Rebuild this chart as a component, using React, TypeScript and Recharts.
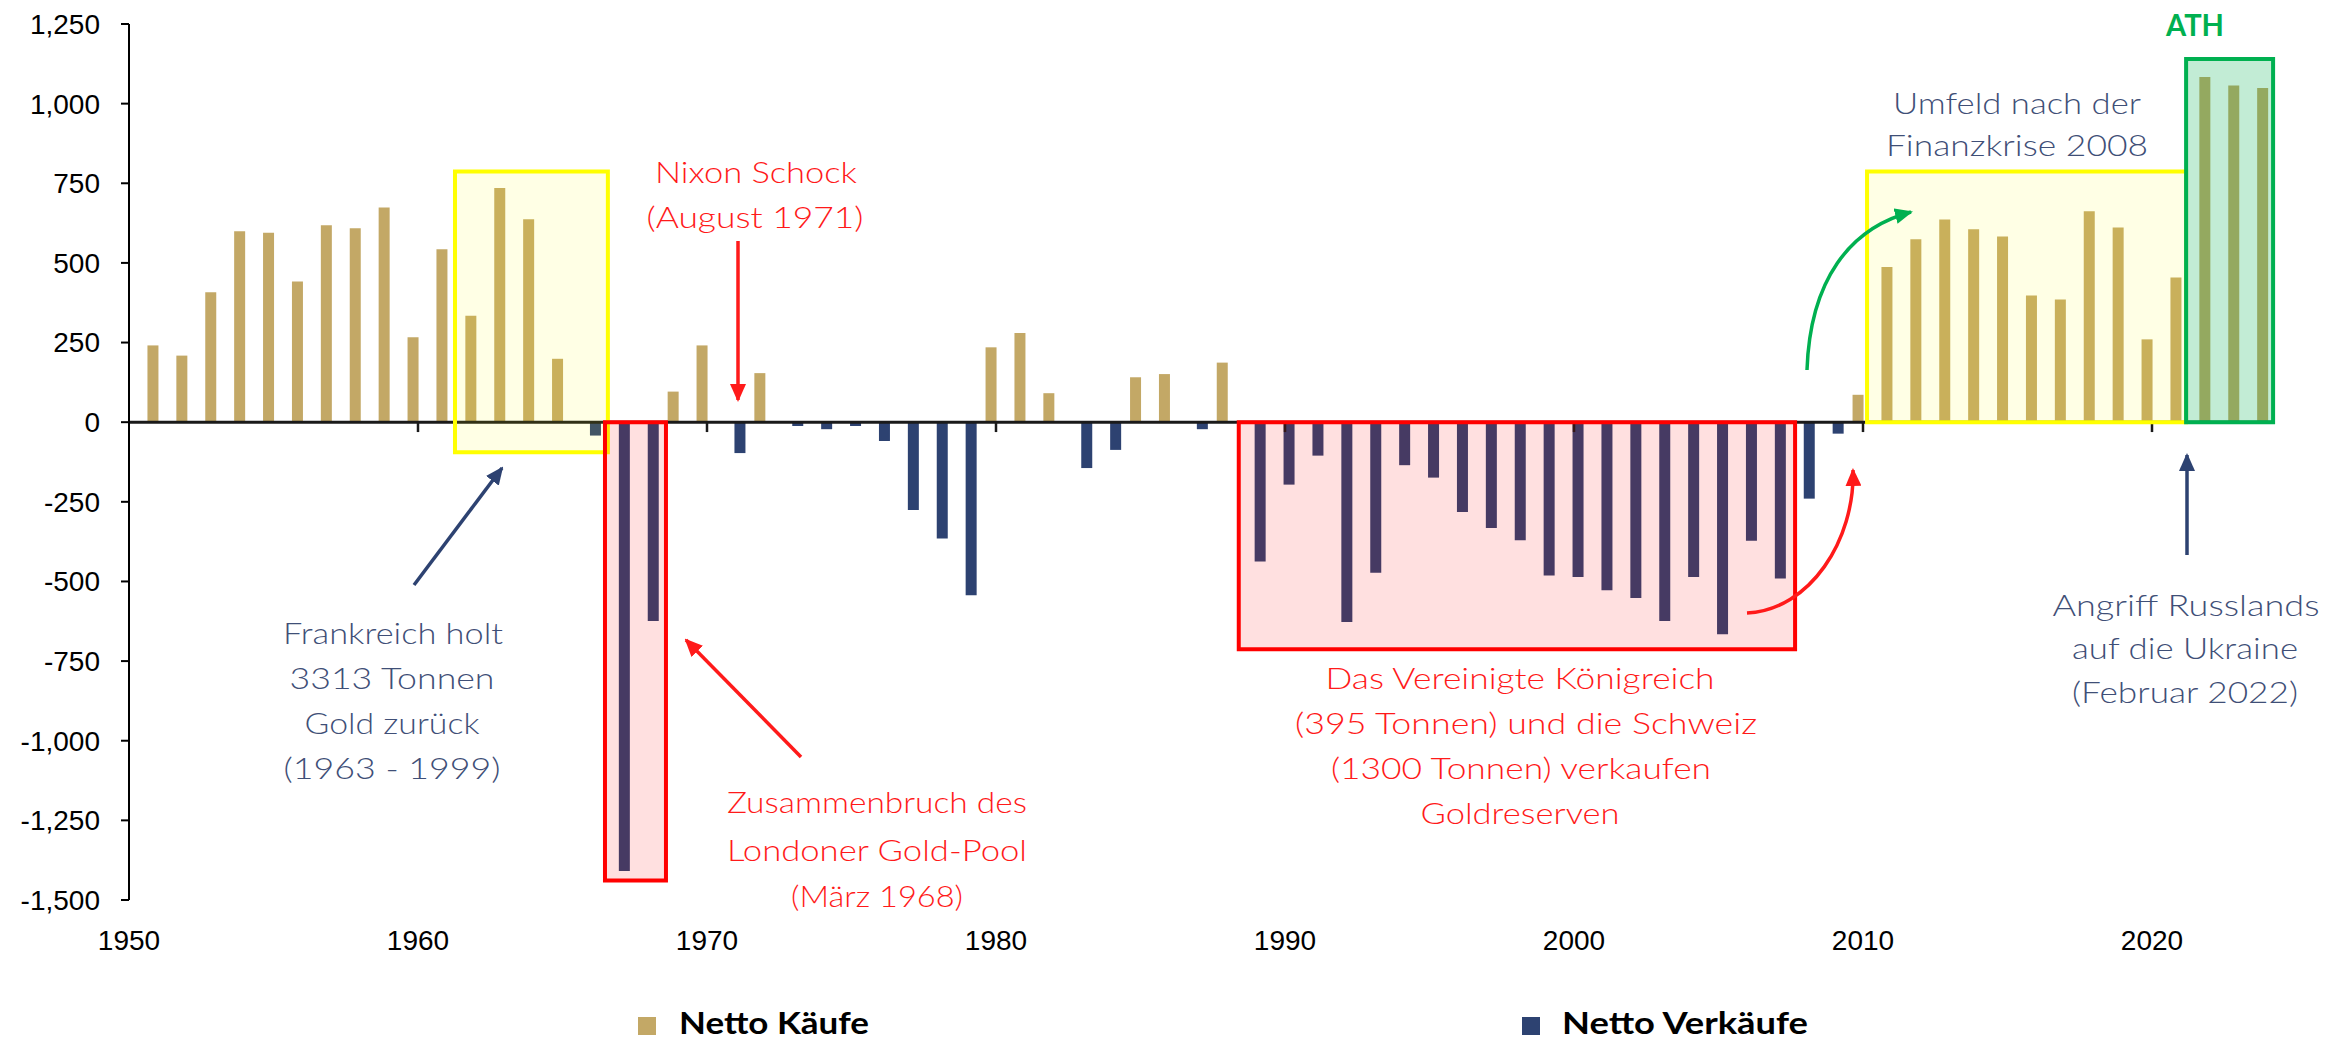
import { Bar, BarChart, Legend, ReferenceArea, ReferenceLine, XAxis, YAxis } from 'recharts'

// Netto-Käufe / -Verkäufe der Zentralbanken in Tonnen, 1951 - 2024
const years = [
  1951, 1952, 1953, 1954, 1955, 1956, 1957, 1958, 1959, 1960,
  1961, 1962, 1963, 1964, 1965, 1966, 1967, 1968, 1969, 1970,
  1971, 1972, 1973, 1974, 1975, 1976, 1977, 1978, 1979, 1980,
  1981, 1982, 1983, 1984, 1985, 1986, 1987, 1988, 1989, 1990,
  1991, 1992, 1993, 1994, 1995, 1996, 1997, 1998, 1999, 2000,
  2001, 2002, 2003, 2004, 2005, 2006, 2007, 2008, 2009, 2010,
  2011, 2012, 2013, 2014, 2015, 2016, 2017, 2018, 2019, 2020,
  2021, 2022, 2023, 2024,
]
const netFlow = [
  241, 209, 408, 599, 595, 442, 618, 609, 674, 267,
  543, 334, 735, 637, 199, -42, -1409, -624, 96, 241,
  -97, 154, -12, -22, -12, -59, -276, -365, -543, 235,
  280, 91, -144, -87, 141, 151, -22, 187, -437, -196,
  -105, -627, -473, -135, -174, -282, -332, -371, -481, -486,
  -528, -552, -624, -486, -666, -372, -491, -240, -36, 86,
  487, 574, 636, 606, 583, 398, 385, 662, 611, 260,
  454, 1084, 1057, 1049,
]
const xTicks = [1950, 1960, 1970, 1980, 1990, 2000, 2010, 2020]
const yTicks = [-1500, -1250, -1000, -750, -500, -250, 0, 250, 500, 750, 1000, 1250]

const data = years.map((year, i) => ({
  year,
  kaeufe: netFlow[i] > 0 ? netFlow[i] : null,
  verkaeufe: netFlow[i] < 0 ? netFlow[i] : null,
}))

const GOLD = '#C3A866'
const NAVY = '#2D4271'
const RED = '#FF1A1A'
const SLATE = '#3F4F77'
const GREEN = '#00B050'

// hervorgehobene Bereiche (Datenkoordinaten)
const boxes = [
  { x1: 1961.28, x2: 1966.57, y1: -94, y2: 787, color: '#FFFF00', opacity: 0.1 },
  { x1: 1966.47, x2: 1968.58, y1: -1439, y2: 0, color: '#FF0000', opacity: 0.12 },
  { x1: 1988.4, x2: 2007.65, y1: -713, y2: 0, color: '#FF0000', opacity: 0.12 },
  { x1: 2010.14, x2: 2021.18, y1: 0, y2: 787, color: '#FFFF00', opacity: 0.1 },
  { x1: 2021.18, x2: 2024.19, y1: 0, y2: 1140, color: GREEN, opacity: 0.24 },
]

// Beschriftungen: [text, mitte x, mitte y, breite]
const notes: { color: string; lines: [string, number, number, number][] }[] = [
  { color: RED, lines: [['Nixon Schock', 756, 172, 202], ['(August 1971)', 755, 217, 217]] },
  {
    color: SLATE,
    lines: [
      ['Frankreich holt', 393, 633, 220],
      ['3313 Tonnen', 392, 678, 205],
      ['Gold zurück', 392, 723, 175],
      ['(1963 - 1999)', 392, 768, 217],
    ],
  },
  {
    color: RED,
    lines: [
      ['Zusammenbruch des', 877, 802, 300],
      ['Londoner Gold-Pool', 877, 850, 300],
      ['(März 1968)', 877, 896, 172],
    ],
  },
  {
    color: RED,
    lines: [
      ['Das Vereinigte Königreich', 1520, 678, 389],
      ['(395 Tonnen) und die Schweiz', 1526, 723, 462],
      ['(1300 Tonnen) verkaufen', 1521, 768, 380],
      ['Goldreserven', 1520, 813, 199],
    ],
  },
  { color: SLATE, lines: [['Umfeld nach der', 2017, 103, 248], ['Finanzkrise 2008', 2017, 145, 262]] },
  {
    color: SLATE,
    lines: [
      ['Angriff Russlands', 2186, 605, 267],
      ['auf die Ukraine', 2185, 648, 226],
      ['(Februar 2022)', 2185, 692, 226],
    ],
  },
]

const arrows = [
  { d: 'M738,241 L738,400', color: RED, id: 'r' },
  { d: 'M414,585 L502,468', color: NAVY, id: 'n' },
  { d: 'M801,757 L686,640', color: RED, id: 'r' },
  { d: 'M1747,613 C1810,610 1855,540 1853,470', color: RED, id: 'r' },
  { d: 'M1807,370 C1810,280 1850,228 1911,212', color: GREEN, id: 'g' },
  { d: 'M2187,555 L2187,455', color: NAVY, id: 'n' },
]

const legendPos = [
  { sq: 638, tx: 679, w: 190 },
  { sq: 1522, tx: 1562, w: 246 },
]

function renderLegend(props: any) {
  const payload = props.payload || []
  return (
    <svg width={2338} height={45} style={{ display: 'block' }}>
      {payload.map((p: any, i: number) => (
        <g key={p.value}>
          <rect x={legendPos[i].sq} y={21} width={18} height={18} fill={p.color} />
          <text
            x={legendPos[i].tx}
            y={38}
            fontFamily='Lato, sans-serif'
            fontWeight={700}
            fontSize={30}
            fill='#000'
            textLength={legendPos[i].w}
            lengthAdjust='spacingAndGlyphs'
          >
            {p.value}
          </text>
        </g>
      ))}
    </svg>
  )
}

const tickFont = { fontFamily: '"Liberation Sans", Arial, sans-serif', fontSize: 28, fill: '#000' }

export default function App() {
  return (
    <div style={{ position: 'absolute', left: 0, top: 0, width: 2338, height: 1041, background: '#fff' }}>
      <BarChart
        width={2338}
        height={1041}
        data={data}
        margin={{ top: 24, right: 41.5, left: 0, bottom: 81 }}
        barGap={-2}
      >
        <XAxis
          dataKey='year'
          type='number'
          domain={[1950, 2025]}
          ticks={xTicks}
          axisLine={false}
          tickLine={false}
          tickSize={8}
          tickMargin={22}
          height={60}
          tick={tickFont}
        />
        <YAxis
          domain={[-1500, 1250]}
          ticks={yTicks}
          width={129}
          tickSize={8}
          tickMargin={21}
          axisLine={{ stroke: '#000', strokeWidth: 2 }}
          tickLine={{ stroke: '#000', strokeWidth: 2 }}
          tick={tickFont}
          tickFormatter={(v: number) => v.toLocaleString('en-US')}
        />
        <Bar dataKey='kaeufe' name='Netto Käufe' fill={GOLD} barSize={11} legendType='square' isAnimationActive={false} />
        <Bar dataKey='verkaeufe' name='Netto Verkäufe' fill={NAVY} barSize={11} legendType='square' isAnimationActive={false} />
        <ReferenceLine
          segment={[{ x: 1950, y: 0 }, { x: 2024.19, y: 0 }]}
          stroke='#1a1a1a'
          strokeWidth={3}
        />
        {xTicks.slice(1).map((t) => (
          <ReferenceLine
            key={t}
            segment={[{ x: t, y: 0 }, { x: t, y: -31 }]}
            stroke='#1a1a1a'
            strokeWidth={2.5}
          />
        ))}
        {boxes.map((b, i) => (
          <ReferenceArea
            key={i}
            x1={b.x1}
            x2={b.x2}
            y1={b.y1}
            y2={b.y2}
            fill={b.color}
            fillOpacity={b.opacity}
            stroke={b.color}
            strokeWidth={4}
            zIndex={700}
          />
        ))}
        <Legend
          content={renderLegend}
          layout='horizontal'
          verticalAlign='middle'
          align='center'
          wrapperStyle={{ left: 0, top: 996, width: 2338, height: 45 }}
        />
      </BarChart>

      <svg
        width={2338}
        height={1041}
        style={{ position: 'absolute', left: 0, top: 0, pointerEvents: 'none' }}
      >
        <defs>
          {[
            ['r', RED],
            ['n', NAVY],
            ['g', GREEN],
          ].map(([id, c]) => (
            <marker
              key={id}
              id={'head-' + id}
              markerUnits='userSpaceOnUse'
              markerWidth={18}
              markerHeight={16}
              refX={16}
              refY={8}
              orient='auto'
            >
              <path d='M0,0 L18,8 L0,16 z' fill={c} />
            </marker>
          ))}
        </defs>
        {arrows.map((a, i) => (
          <path
            key={i}
            d={a.d}
            fill='none'
            stroke={a.color}
            strokeWidth={3.5}
            markerEnd={`url(#head-${a.id})`}
          />
        ))}
        {notes.map((n, i) =>
          n.lines.map(([txt, cx, cy, w]) => (
            <text
              key={i + txt}
              x={cx}
              y={cy + 11}
              textAnchor='middle'
              fontFamily='Lato, sans-serif'
              fontWeight={300}
              fontSize={30}
              fill={n.color}
              textLength={w}
              lengthAdjust='spacingAndGlyphs'
            >
              {txt}
            </text>
          ))
        )}
        <text
          x={2195}
          y={36}
          textAnchor='middle'
          fontFamily='Lato, sans-serif'
          fontWeight={700}
          fontSize={30}
          fill={GREEN}
          textLength={58}
          lengthAdjust='spacingAndGlyphs'
        >
          ATH
        </text>
      </svg>
    </div>
  )
}
